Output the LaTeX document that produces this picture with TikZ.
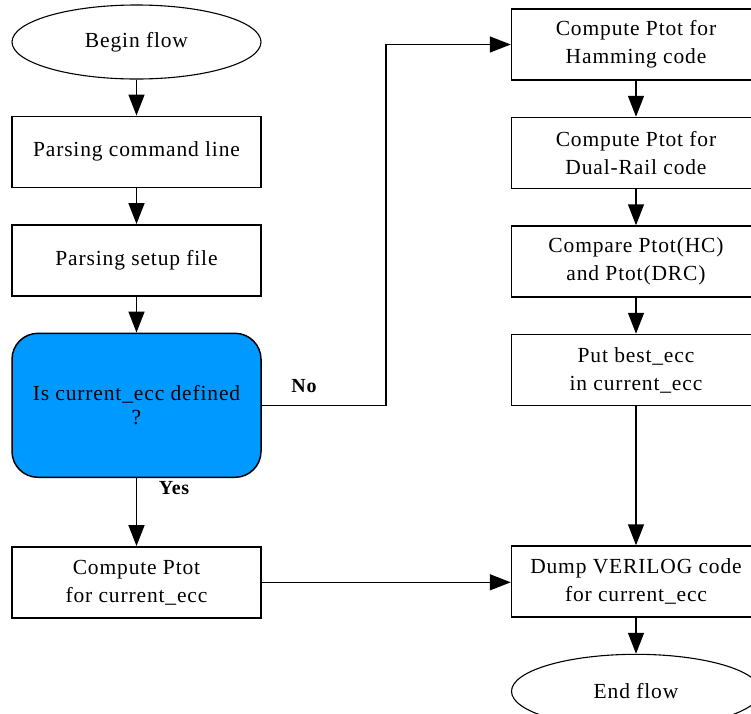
\documentclass[tikz,border=0pt]{standalone}
\usepackage{fontspec}
\setmainfont{Liberation Serif}[LetterSpace=4]
\usepackage{tikz}
\usetikzlibrary{arrows.meta,positioning,shapes.geometric}
\definecolor{declblue}{RGB}{0,153,255}

\begin{document}
\begin{tikzpicture}[
  x=1pt,y=-1pt,
  node distance=36pt,
  every node/.style={font=\fontsize{21.5}{28}\selectfont,align=center},
  box/.style={draw,line width=1.5pt,inner sep=2pt,minimum width=249pt,minimum height=71pt},
  term/.style={draw,ellipse,line width=1.1pt,inner sep=0pt,minimum width=249pt,minimum height=74pt},
  decide/.style={draw,line width=1.5pt,rounded corners=26pt,fill=declblue,inner sep=2pt,minimum width=249pt,minimum height=144pt,font=\fontsize{21.5}{24}\selectfont},
  lbl/.style={font=\fontsize{20}{23}\selectfont\bfseries},
  arr/.style={-{Triangle[length=21pt,width=16pt]},line width=1.5pt}
]
\useasboundingbox (0,0) rectangle (751,713);
% left column
\node[term] (begin) at (136.5,42) {Begin flow};
\node[box,below=of begin] (parse) {Parsing command line};
\node[box,below=of parse] (setup) {Parsing setup file};
\node[decide,below=of setup] (isdef) {Is current\_ecc defined\\?};
\node[box,below=68pt of isdef] (ptot) {Compute Ptot\\for current\_ecc};
% right column
\node[box] (ham) at (636,44.5) {Compute Ptot for\\Hamming code};
\node[box,below=of ham] (drc) {Compute Ptot for\\Dual-Rail code};
\node[box,below=of drc] (cmp) {Compare Ptot(HC)\\and Ptot(DRC)};
\node[box,below=of cmp] (best) {Put best\_ecc\\in current\_ecc};
\node[box,below=139pt of best] (dump) {Dump VERILOG code\\for current\_ecc};
\node[term,below=of dump] (stop) {End flow};
\coordinate (nobend) at (386,0);
\node[lbl] (no) at (304,386) {No};
\node[lbl] (yes) at (174,488) {Yes};
\draw[arr] (begin)--(parse);
\draw[arr] (parse)--(setup);
\draw[arr] (setup)--(isdef);
\draw[arr] (isdef)--(ptot);
\draw[arr] (isdef.east)--(isdef.east-|nobend)|-(ham.west);
\draw[arr] (ptot.east)--(ptot.east-|dump.west);
\draw[arr] (ham)--(drc);
\draw[arr] (drc)--(cmp);
\draw[arr] (cmp)--(best);
\draw[arr] (best)--(dump);
\draw[arr] (dump)--(stop);
\end{tikzpicture}
\end{document}
